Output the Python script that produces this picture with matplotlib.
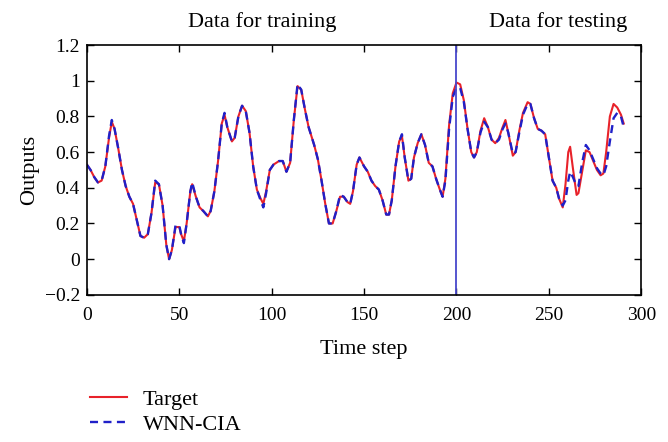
import matplotlib
matplotlib.use("Agg")
import matplotlib.pyplot as plt
from matplotlib.lines import Line2D

# Time steps at which values were read off the reference (non-uniform)
time_steps = [
    0, 2, 4, 6, 8, 10, 12, 13.5, 15, 17, 19, 21, 23, 25, 27, 29, 31, 33, 35, 37,
    39, 41, 43, 44.5, 46, 48, 50, 51, 52.5, 54, 56, 57, 59, 61, 63, 65.5, 67, 69,
    71, 73, 74.5, 76, 78.5, 80, 82, 84, 86, 88, 90, 92, 94, 95.5, 97, 99, 101,
    104, 106, 108, 110, 112, 114, 116, 118, 120, 123, 125, 127, 129, 131, 133,
    135, 137, 139, 141, 142.5, 144, 146, 147.5, 150, 152, 154, 156, 158, 160,
    162, 163.5, 165, 167, 169, 170.5, 172, 174, 175.5, 177, 179, 181, 183, 185,
    187, 189, 191, 192.5, 194, 196, 198, 200, 202, 204, 206, 208, 209.5, 211,
    213, 215, 217, 219, 221, 223, 225, 226.5, 228, 230.5, 232, 234, 236, 238.5,
    240, 242, 244, 246, 248, 250, 252, 254, 255.5, 257.5, 259, 260.5, 261.5,
    263, 265, 266, 268, 270, 272, 274, 276, 278, 279.5, 281, 283, 285, 287, 289,
    290.5,
]

target = [
    0.53, 0.50, 0.46, 0.43, 0.44, 0.52, 0.68, 0.77, 0.73, 0.62, 0.50, 0.41, 0.35,
    0.31, 0.22, 0.13, 0.12, 0.14, 0.26, 0.43, 0.42, 0.30, 0.08, 0.00, 0.05, 0.18,
    0.18, 0.14, 0.10, 0.20, 0.38, 0.42, 0.35, 0.29, 0.27, 0.24, 0.27, 0.38, 0.55,
    0.76, 0.81, 0.74, 0.66, 0.68, 0.80, 0.86, 0.83, 0.71, 0.52, 0.39, 0.34, 0.31,
    0.38, 0.50, 0.53, 0.55, 0.55, 0.49, 0.54, 0.78, 0.97, 0.95, 0.84, 0.74, 0.64,
    0.56, 0.44, 0.31, 0.20, 0.20, 0.27, 0.35, 0.35, 0.32, 0.31, 0.38, 0.53, 0.57,
    0.52, 0.49, 0.44, 0.41, 0.39, 0.33, 0.25, 0.25, 0.33, 0.52, 0.66, 0.69, 0.57,
    0.44, 0.45, 0.57, 0.65, 0.70, 0.64, 0.54, 0.52, 0.45, 0.39, 0.35, 0.45, 0.75,
    0.93, 0.99, 0.98, 0.89, 0.73, 0.60, 0.57, 0.60, 0.72, 0.79, 0.74, 0.67, 0.65,
    0.68, 0.74, 0.78, 0.71, 0.58, 0.60, 0.72, 0.82, 0.88, 0.87, 0.79, 0.73, 0.72,
    0.70, 0.57, 0.44, 0.40, 0.34, 0.29, 0.42, 0.60, 0.63, 0.51, 0.36, 0.37, 0.49,
    0.61, 0.60, 0.55, 0.50, 0.47, 0.48, 0.60, 0.80, 0.87, 0.85, 0.81, 0.76,
]

wnn_cia = [
    0.53, 0.50, 0.46, 0.43, 0.44, 0.52, 0.69, 0.78, 0.73, 0.62, 0.50, 0.41, 0.35,
    0.31, 0.22, 0.13, 0.12, 0.14, 0.26, 0.44, 0.42, 0.30, 0.08, 0.00, 0.05, 0.19,
    0.19, 0.14, 0.09, 0.20, 0.38, 0.43, 0.35, 0.29, 0.27, 0.24, 0.27, 0.38, 0.55,
    0.76, 0.82, 0.74, 0.66, 0.68, 0.80, 0.86, 0.83, 0.71, 0.52, 0.39, 0.33, 0.29,
    0.37, 0.50, 0.53, 0.55, 0.55, 0.49, 0.54, 0.78, 0.98, 0.95, 0.84, 0.74, 0.64,
    0.56, 0.44, 0.31, 0.20, 0.20, 0.27, 0.36, 0.35, 0.32, 0.31, 0.38, 0.53, 0.57,
    0.52, 0.49, 0.44, 0.41, 0.39, 0.33, 0.25, 0.25, 0.33, 0.52, 0.66, 0.70, 0.57,
    0.44, 0.45, 0.57, 0.65, 0.70, 0.64, 0.54, 0.52, 0.45, 0.39, 0.35, 0.44, 0.73,
    0.91, 0.96, 0.96, 0.88, 0.73, 0.60, 0.57, 0.60, 0.71, 0.77, 0.74, 0.67, 0.65,
    0.67, 0.73, 0.76, 0.71, 0.59, 0.60, 0.71, 0.81, 0.87, 0.87, 0.79, 0.73, 0.72,
    0.70, 0.57, 0.44, 0.40, 0.34, 0.30, 0.33, 0.44, 0.49, 0.46, 0.41, 0.41, 0.54,
    0.64, 0.61, 0.56, 0.51, 0.48, 0.47, 0.52, 0.66, 0.79, 0.82, 0.80, 0.74,
]

split_step = 200
x_ticks = [0, 50, 100, 150, 200, 250, 300]
y_ticks = [-0.2, 0, 0.2, 0.4, 0.6, 0.8, 1, 1.2]
y_tick_labels = ["\u22120.2", "0", "0.2", "0.4", "0.6", "0.8", "1", "1.2"]

RED = "#e8222a"
BLUE = "#2020c8"
SPLIT_BLUE = "#4848cc"
DASH = (0, (3.4, 2.3))

plt.rcParams["font.family"] = ["Liberation Serif", "DejaVu Serif"]
plt.rcParams["font.size"] = 16

fig = plt.figure(figsize=(6.68, 4.42), dpi=100)
ax = fig.add_axes([0.130, 0.333, 0.830, 0.565])

ax.plot(time_steps, target, color=RED, linewidth=1.5, label="Target")
ax.plot(time_steps, wnn_cia, color=BLUE, linewidth=1.7, linestyle=DASH,
        label="WNN-CIA")
ax.axvline(split_step, color=SPLIT_BLUE, linewidth=1.3)

ax.set_xlim(0, 300)
ax.set_ylim(-0.2, 1.2)
ax.set_xticks(x_ticks)
ax.set_yticks(y_ticks)
ax.set_yticklabels(y_tick_labels)
ax.tick_params(direction="in", top=True, right=True, length=5, width=1,
               labelsize=14)
ax.tick_params(axis="x", pad=9)
ax.tick_params(axis="y", pad=5)
for spine in ax.spines.values():
    spine.set_linewidth(1.2)

ax.set_xlabel("Time step", fontsize=16, labelpad=11)
ax.set_ylabel("Outputs", fontsize=16, labelpad=4)

ax.text(95, 1.33, "Data for training", ha="center", va="center", fontsize=16,
        clip_on=False)
ax.text(255, 1.33, "Data for testing", ha="center", va="center", fontsize=16,
        clip_on=False)

handles = [
    Line2D([], [], color=RED, linewidth=1.5),
    Line2D([], [], color=BLUE, linewidth=1.7, linestyle=DASH),
]
fig.legend(handles, ["Target", "WNN-CIA"], loc="upper left",
           bbox_to_anchor=(0.121, 0.14), frameon=False, fontsize=16,
           handlelength=1.67, handletextpad=0.72, labelspacing=0.2,
           borderaxespad=0)

fig.savefig("out.png", dpi=100)
